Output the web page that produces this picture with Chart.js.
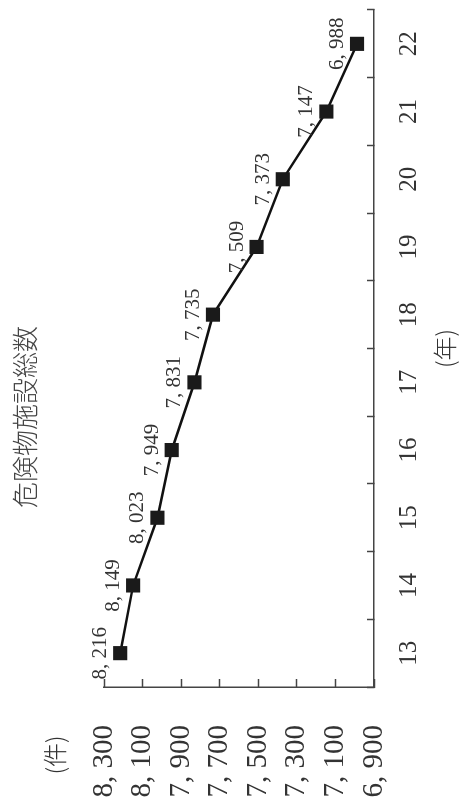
<!DOCTYPE html>
<html lang="ja">
<head>
<meta charset="utf-8">
<script src="https://cdn.jsdelivr.net/npm/chart.js@4.4.1/dist/chart.umd.min.js"></script>
<style>
    html, body { margin: 0; padding: 0; background: #fff; overflow: hidden; }
    /* chart is drawn landscape, then turned to read bottom-to-top like the original */
    #wrap {
        position: absolute;
        left: 0;
        top: 0;
        width: 804px;
        height: 462px;
        transform-origin: 0 0;
        transform: translate(0, 804px) rotate(-90deg);
    }
</style>
</head>
<body>
<div id="wrap"><canvas id="facilityChart" width="804" height="462"></canvas></div>
<script>
const years = ["13", "14", "15", "16", "17", "18", "19", "20", "21", "22"];
const facilityCounts = [8216, 8149, 8023, 7949, 7831, 7735, 7509, 7373, 7147, 6988];
const valueTicks = [6900, 7100, 7300, 7500, 7700, 7900, 8100, 8300];

const chartTitle = "危険物施設総数";
const unitLabel = "(件)";
const yearLabel = "(年)";

const textColor = "#333";
const axisColor = "#444";

function formatCount(n) {
    return n.toLocaleString("en-US").replace(",", ", ");
}

const pointLabels = {
    id: "pointLabels",
    afterDatasetsDraw(chart) {
        const ctx = chart.ctx;
        const meta = chart.getDatasetMeta(0);
        ctx.save();
        ctx.font = "21px 'Liberation Serif', serif";
        ctx.fillStyle = textColor;
        ctx.textAlign = "center";
        ctx.textBaseline = "alphabetic";
        meta.data.forEach((pt, i) => {
            ctx.fillText(formatCount(facilityCounts[i]), pt.x, pt.y - 14);
        });
        ctx.restore();
    }
};

const captions = {
    id: "captions",
    afterDraw(chart) {
        const ctx = chart.ctx;
        const area = chart.chartArea;
        ctx.save();
        ctx.textAlign = "center";
        ctx.textBaseline = "middle";

        ctx.fillStyle = "#444";
        ctx.font = "300 26px 'Noto Sans CJK JP', sans-serif";
        ctx.fillText(chartTitle, 387, 25);

        ctx.fillStyle = textColor;
        ctx.font = "300 24px 'Noto Sans CJK JP', sans-serif";
        ctx.fillText(unitLabel, 49, 55);
        ctx.fillText(yearLabel, (area.left + area.right) / 2, 445);
        ctx.restore();
    }
};

Chart.defaults.font.family = "'Liberation Serif', serif";
Chart.defaults.color = textColor;

new Chart(document.getElementById("facilityChart"), {
    type: "line",
    data: {
        labels: years,
        datasets: [{
            data: facilityCounts,
            borderColor: "#111",
            borderWidth: 2.5,
            tension: 0,
            pointStyle: "rect",
            pointRadius: 10,
            pointBackgroundColor: "#1a1a1a",
            pointBorderColor: "#1a1a1a",
            pointBorderWidth: 0
        }]
    },
    options: {
        responsive: false,
        animation: false,
        events: [],
        layout: {
            padding: { top: 104, right: 9, left: 0, bottom: 0 }
        },
        plugins: {
            legend: { display: false },
            tooltip: { enabled: false },
            title: { display: false }
        },
        scales: {
            x: {
                offset: true,
                afterFit: (scale) => { scale.height = 88; },
                grid: {
                    offset: true,
                    drawOnChartArea: false,
                    tickLength: -7,
                    tickColor: axisColor,
                    tickWidth: 1.5
                },
                border: { color: axisColor, width: 1.5 },
                ticks: {
                    font: { size: 25 },
                    padding: 27,
                    maxRotation: 0,
                    autoSkip: false
                }
            },
            y: {
                min: 6900,
                max: 8300,
                afterFit: (scale) => { scale.width = 117; },
                afterBuildTicks: (scale) => {
                    scale.ticks = valueTicks.map((v) => ({ value: v }));
                },
                grid: {
                    drawOnChartArea: false,
                    tickLength: -8,
                    tickColor: axisColor,
                    tickWidth: 1.5
                },
                border: { color: axisColor, width: 1.5 },
                ticks: {
                    font: { size: 29 },
                    padding: 46,
                    callback: (value) => formatCount(value)
                }
            }
        }
    },
    plugins: [pointLabels, captions]
});
</script>
</body>
</html>
